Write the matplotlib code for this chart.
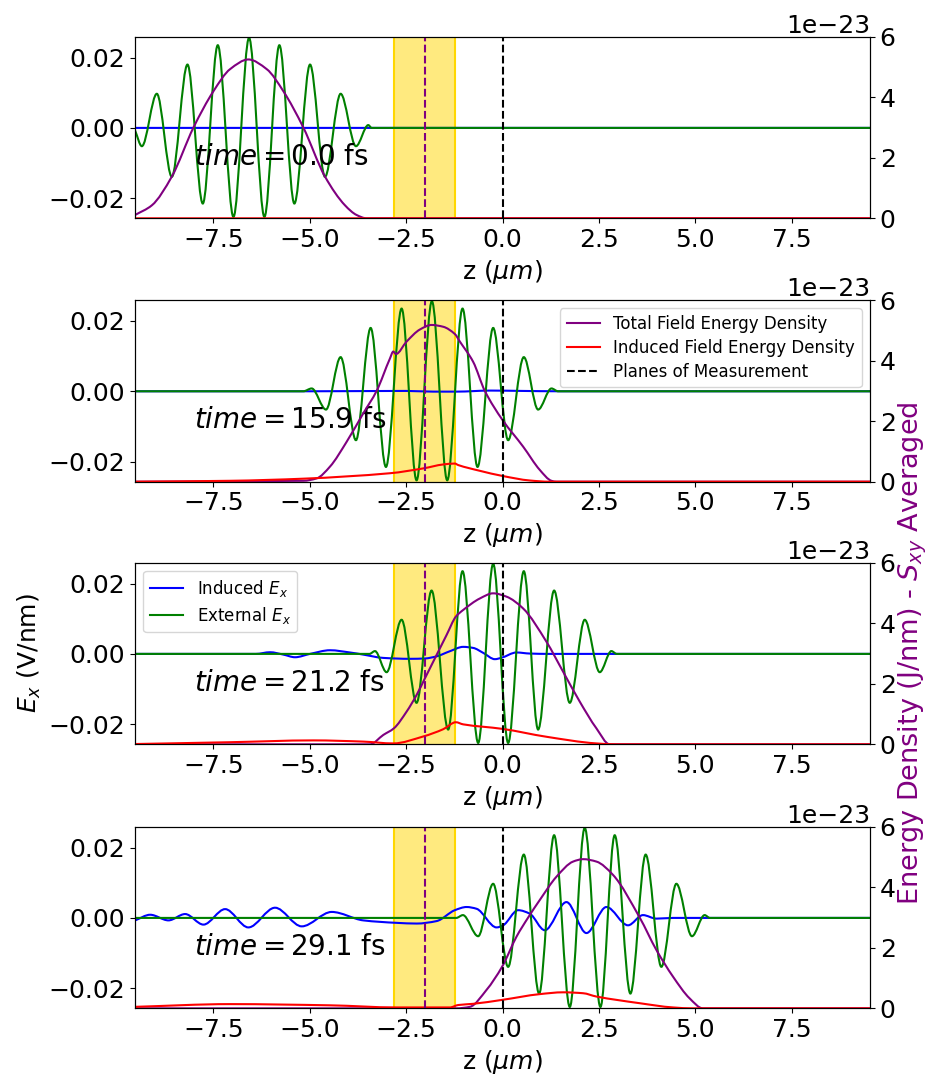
import matplotlib
matplotlib.use("Agg")
import matplotlib.pyplot as plt
from matplotlib.path import Path
from matplotlib.patches import PathPatch

plt.rcParams['font.size'] = 18

# times of the four snapshots (fs)
times = [0.0, 15.9, 21.2, 29.1]

# slab region and measurement planes (um)
slab_lo, slab_hi = -2.82, -1.22
plane_in = -2.02
plane_out = 0.0

# external Ex, extrema of the pulse per snapshot (z in um, Ex in V/nm)
ext_z0 = [-9.53, -9.353, -8.965, -8.576, -8.170, -7.773, -7.384, -6.978, -6.573, -6.175,
          -5.787, -5.398, -4.992, -4.604, -4.198, -3.801, -3.481, -3.395, 9.53]
ext_e0 = [-0.0007, -0.0052, 0.0097, -0.0139, 0.0180, -0.0215, 0.0235, -0.0253, 0.0256, -0.0253,
          0.0235, -0.0215, 0.0180, -0.0139, 0.0097, -0.0052, 0.0008, 0.0, 0.0]

ext_z1 = [-9.53, -5.165, -4.949, -4.578, -4.198, -3.801, -3.420, -3.023, -2.617, -2.229, -1.832,
          -1.434, -1.037, -0.648, -0.243, 0.146, 0.552, 0.923, 1.269, 1.441, 9.53]
ext_z2 = [-9.53, -3.45, -3.308, -3.006, -2.617, -2.229, -1.840, -1.409, -1.037, -0.631, -0.243,
          0.146, 0.552, 0.923, 1.338, 1.744, 2.132, 2.521, 2.823, 2.96, 9.53]
ext_z3 = [-9.53, -1.2, -1.028, -0.632, -0.243, 0.146, 0.552, 0.949, 1.338, 1.744, 2.132,
          2.539, 2.909, 3.316, 3.712, 4.119, 4.508, 4.912, 5.241, 5.376, 9.53]
ext_e = [0.0, 0.0, 0.0008, -0.0052, 0.0097, -0.0139, 0.0180, -0.0215, 0.0235, -0.0253, 0.0256,
         -0.0253, 0.0235, -0.0215, 0.0180, -0.0139, 0.0097, -0.0052, 0.0008, 0.0, 0.0]

# induced Ex
ind_z0 = [-9.53, 9.53]
ind_e0 = [0.0, 0.0]
ind_z1 = [-9.53, -5.0, -2.5, -1.8, -1.2, -0.3, 0.5, 1.5, 9.53]
ind_e1 = [0.0, 0.0, 0.0001, -0.0001, -0.0001, 0.0002, 0.0001, 0.0, 0.0]
ind_z2 = [-9.53, -6.4, -6.028, -5.683, -5.381, -4.992, -4.474, -3.956, -3.611, -3.092, -2.402,
          -2.013, -1.711, -1.365, -1.020, -0.761, -0.502, -0.199, -0.027, 0.362, 0.707, 1.2, 9.53]
ind_e2 = [0.0, 0.0, 0.00047, -0.0002, -0.00095, 0.0, 0.00104, 0.0004, -0.0002, -0.00114, -0.0014,
          -0.0013, -0.0007, 0.00076, 0.0020, 0.0017, 0.0003, -0.0015, -0.0011, 0.0004, 0.0001, 0.0, 0.0]
ind_z3 = [-9.526, -9.137, -8.663, -8.231, -7.756, -7.194, -6.591, -5.899, -5.207, -4.430, -3.611,
          -2.746, -2.228, -1.710, -1.236, -0.933, -0.674, -0.155, 0.016, 0.404, 0.707, 1.096,
          1.658, 2.176, 2.694, 3.254, 3.642, 3.990, 4.420, 9.53]
ind_e3 = [-0.0007, 0.0009, -0.0007, 0.0011, -0.0019, 0.0025, -0.0027, 0.0029, -0.0024, 0.0017, -0.0007,
          -0.0014, -0.0016, -0.0009, 0.0022, 0.0031, 0.0026, -0.0027, -0.0021, 0.0022, 0.0012, -0.0035,
          0.0045, -0.0043, 0.0031, -0.0021, 0.0008, -0.0002, 0.0, 0.0]

# total field energy density (units of 1e-23)
tot_z0 = [-9.53, -9.094, -8.576, -8.015, -7.497, -7.065, -6.59, -6.115, -5.683, -5.165, -4.604,
          -4.085, -3.783, -3.524, 9.53]
tot_u0 = [0.11, 0.43, 1.38, 3.0, 4.2, 4.93, 5.25, 4.93, 4.2, 3.0, 1.38, 0.43, 0.11, 0.0, 0.0]
tot_z1 = [-9.53, -5.165, -4.819, -4.474, -4.042, -3.611, -3.265, -2.920, -2.833, -2.764, -2.488,
          -2.142, -1.840, -1.538, -1.236, -1.106, -0.761, -0.459, 0.0, 0.534, 0.966, 1.269, 1.398, 9.53]
tot_u1 = [0.0, 0.03, 0.11, 0.5, 1.32, 2.26, 3.0, 4.07, 4.3, 4.22, 4.63,
          5.03, 5.18, 5.12, 4.88, 4.63, 3.96, 3.0, 2.04, 1.16, 0.39, 0.03, 0.0, 0.0]
tot_z2 = [-9.53, -3.438, -3.092, -2.816, -2.488, -2.229, -2.013, -1.711, -1.452, -1.210, -1.020,
          -0.588, -0.243, 0.103, 0.534, 1.139, 1.571, 2.003, 2.434, 2.780, 9.53]
tot_u2 = [0.0, 0.0, 0.31, 0.53, 1.08, 1.63, 2.18, 2.95, 3.61, 4.22, 4.44,
          4.82, 4.99, 4.88, 4.49, 3.39, 2.40, 1.41, 0.53, 0.0, 0.0]
tot_z3 = [-9.53, -1.2, -0.847, -0.415, -0.009, 0.363, 0.664, 0.966, 1.399, 1.830, 2.088, 2.435,
          2.865, 3.557, 3.990, 4.420, 4.852, 5.197, 9.53]
tot_u3 = [0.0, 0.0, 0.05, 0.61, 1.38, 2.37, 3.0, 3.58, 4.35, 4.85, 4.93, 4.85,
          4.41, 3.0, 1.93, 1.05, 0.33, 0.0, 0.0]

# induced field energy density (units of 1e-23)
ind_uz0 = [-9.53, 9.53]
ind_u0 = [0.0, 0.0]
ind_uz1 = [-9.53, -7.065, -5.165, -2.920, -2.056, -1.538, -1.236, -1.149, -0.588, 0.0, 0.707, 1.225, 9.53]
ind_u1 = [0.0, 0.03, 0.10, 0.28, 0.44, 0.57, 0.60, 0.55, 0.36, 0.19, 0.04, 0.0, 0.0]
ind_uz2 = [-9.53, -7.065, -4.906, -3.611, -2.833, -2.056, -1.538, -1.210, -1.020, 0.0, 1.139, 2.434, 2.953, 9.53]
ind_u2 = [0.01, 0.07, 0.13, 0.09, 0.03, 0.26, 0.50, 0.73, 0.66, 0.51, 0.25, 0.03, 0.0, 0.0]
ind_uz3 = [-9.53, -7.065, -4.474, -2.746, -1.365, -1.150, -0.761, -0.009, 0.966, 1.571, 2.088, 2.435,
           3.557, 4.420, 4.938, 9.53]
ind_u3 = [0.05, 0.14, 0.10, 0.03, 0.03, 0.11, 0.15, 0.28, 0.47, 0.53, 0.50, 0.39,
          0.17, 0.03, 0.0, 0.0]

ext_z = [ext_z0, ext_z1, ext_z2, ext_z3]
ext_v = [ext_e0, ext_e, ext_e, ext_e]
ind_z = [ind_z0, ind_z1, ind_z2, ind_z3]
ind_v = [ind_e0, ind_e1, ind_e2, ind_e3]
tot_z = [tot_z0, tot_z1, tot_z2, tot_z3]
tot_v = [tot_u0, tot_u1, tot_u2, tot_u3]
iu_z = [ind_uz0, ind_uz1, ind_uz2, ind_uz3]
iu_v = [ind_u0, ind_u1, ind_u2, ind_u3]


def smooth_line(ax, xs, ys, color, scale=1.0):
    # draw a smooth curve through the points as a bezier path (monotone hermite tangents)
    ys = [y * scale for y in ys]
    n = len(xs)
    d = [(ys[k + 1] - ys[k]) / (xs[k + 1] - xs[k]) for k in range(n - 1)]
    m = [d[0]]
    for k in range(1, n - 1):
        if d[k - 1] * d[k] <= 0:
            m.append(0.0)
        else:
            m.append(2.0 / (1.0 / d[k - 1] + 1.0 / d[k]))
    m.append(d[-1])
    verts = [(xs[0], ys[0])]
    codes = [Path.MOVETO]
    for k in range(n - 1):
        h = (xs[k + 1] - xs[k]) / 3.0
        verts += [(xs[k] + h, ys[k] + m[k] * h),
                  (xs[k + 1] - h, ys[k + 1] - m[k + 1] * h),
                  (xs[k + 1], ys[k + 1])]
        codes += [Path.CURVE4] * 3
    ax.add_patch(PathPatch(Path(verts, codes), facecolor='none', edgecolor=color, lw=1.5))


fig = plt.figure(figsize=(9.3, 10.75), dpi=100)
bottoms = [0.7969, 0.5519, 0.3076, 0.0620]

for i in range(4):
    ax = fig.add_axes([0.1452, bottoms[i], 0.7903, 0.1689])
    ax.axvspan(slab_lo, slab_hi, facecolor='gold', alpha=0.5, lw=0, zorder=0)
    ax.axvline(slab_lo, color='gold', lw=1.5, zorder=0.5)
    ax.axvline(slab_hi, color='gold', lw=1.5, zorder=0.5)
    ax.plot([], [], color='blue', lw=1.5, label='Induced $E_x$')
    ax.plot([], [], color='green', lw=1.5, label='External $E_x$')
    smooth_line(ax, ind_z[i], ind_v[i], 'blue')
    smooth_line(ax, ext_z[i], ext_v[i], 'green')
    ax.set_xlim(-9.53, 9.53)
    ax.set_ylim(-0.0257, 0.0259)
    ax.set_yticks([-0.02, 0.0, 0.02])
    ax.set_xticks([-7.5, -5.0, -2.5, 0.0, 2.5, 5.0, 7.5])
    ax.set_xlabel(r'z ($\mu m$)')
    ax.text(-8.0, -0.0105, r'$time = %.1f$ fs' % times[i], fontsize=20)

    ax2 = ax.twinx()
    ax2.plot([], [], color='purple', lw=1.5, label='Total Field Energy Density')
    ax2.plot([], [], color='red', lw=1.5, label='Induced Field Energy Density')
    smooth_line(ax2, tot_z[i], tot_v[i], 'purple', 1e-23)
    smooth_line(ax2, iu_z[i], iu_v[i], 'red', 1e-23)
    ax2.axvline(plane_out, color='black', ls='--', lw=1.5, label='Planes of Measurement')
    ax2.axvline(plane_in, color='purple', ls='--', lw=1.5)
    ax2.set_xlim(-9.53, 9.53)
    ax2.set_ylim(0, 6e-23)
    ax2.set_yticks([0, 2e-23, 4e-23, 6e-23])

    if i == 1:
        ax2.legend(loc='upper right', fontsize=12, labelspacing=0.35)
    if i == 2:
        ax.legend(loc='upper left', fontsize=12, labelspacing=0.35)
        ax.set_ylabel('$E_x$ (V/nm)')
        ax2.set_ylabel('Energy Density (J/nm) - $S_{xy}$ Averaged', color='purple', fontsize=19.5)
        ax2.yaxis.set_label_coords(1.036, 0.5)

fig.savefig('out.png', dpi=100)
